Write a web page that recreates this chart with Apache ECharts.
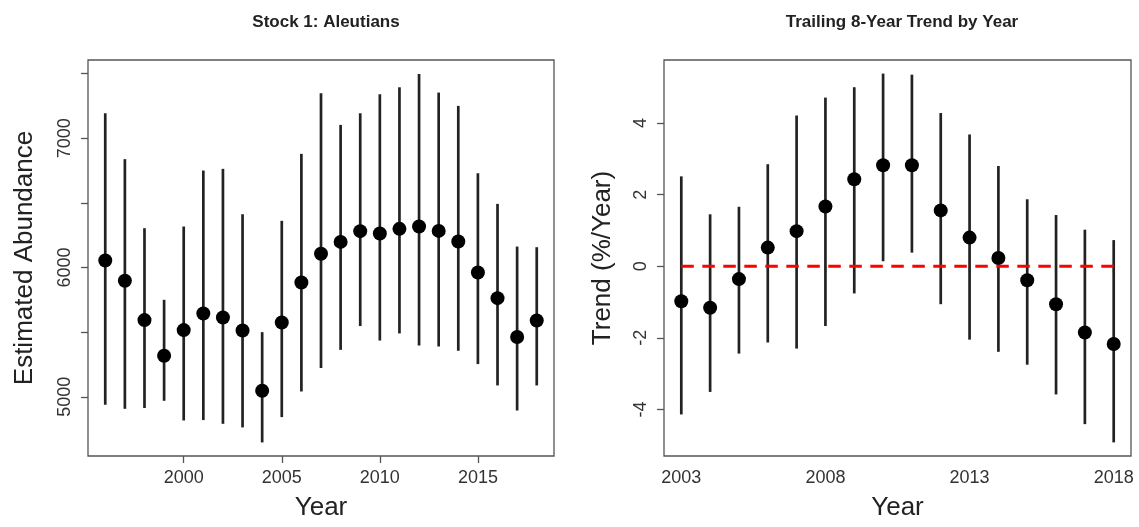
<!DOCTYPE html>
<html>
<head>
<meta charset="utf-8">
<script src="https://cdn.jsdelivr.net/npm/echarts@6/dist/echarts.min.js"></script>
<style>
html,body{margin:0;padding:0;background:#fff;}
#chart{width:1139px;height:527px;}
</style>
</head>
<body>
<div id="chart"></div>
<script>
// ---- Panel 1: Stock 1: Aleutians ----
const years1 = [1996,1997,1998,1999,2000,2001,2002,2003,2004,2005,2006,2007,2008,2009,2010,2011,2012,2013,2014,2015,2016,2017,2018];
const abundance = [6054,5897,5593,5317,5516,5644,5613,5513,5047,5575,5884,6106,6198,6281,6263,6299,6317,6283,6201,5961,5763,5462,5590];
const abundLow  = [4938,4907,4913,4969,4817,4820,4791,4763,4647,4843,5041,5222,5363,5547,5435,5490,5397,5389,5356,5253,5088,4894,5088];
const abundHigh = [7193,6838,6304,5750,6317,6750,6763,6412,5500,6361,6879,7348,7103,7193,7340,7394,7497,7353,7250,6729,6492,6162,6157];
const xTicks1 = [2000,2005,2010,2015];
const yTicks1 = [5000,5500,6000,6500,7000,7500];
const yLabels1 = [5000,6000,7000];

// ---- Panel 2: Trailing 8-Year Trend by Year ----
const years2 = [2003,2004,2005,2006,2007,2008,2009,2010,2011,2012,2013,2014,2015,2016,2017,2018];
const trend     = [-0.98,-1.16,-0.36,0.52,0.98,1.67,2.43,2.82,2.82,1.56,0.80,0.23,-0.39,-1.06,-1.85,-2.17];
const trendLow  = [-4.14,-3.51,-2.44,-2.13,-2.30,-1.67,-0.76,0.14,0.38,-1.06,-2.05,-2.39,-2.75,-3.58,-4.41,-4.92];
const trendHigh = [2.51,1.45,1.66,2.85,4.21,4.71,5.00,5.38,5.35,4.28,3.68,2.80,1.87,1.43,1.02,0.73];
const xTicks2 = [2003,2008,2013,2018];
const yTicks2 = [-4,-2,0,2,4];
const zeroLine = [[2003,0],[2018,0]];

const FONT = '"Liberation Sans", Arial, Helvetica, sans-serif';
const AXIS_GRAY = '#555';
const TXT = '#222';

function errRender(params, api){
  const x = api.value(0);
  const p1 = api.coord([x, api.value(1)]);
  const p2 = api.coord([x, api.value(2)]);
  return {type:'line', shape:{x1:p1[0],y1:p1[1],x2:p2[0],y2:p2[1]},
          style:{stroke:'#222', lineWidth:2.7}};
}

function xAxisCfg(idx, min, max, ticks){
  return {
    type:'value', gridIndex: idx, min: min, max: max,
    name:'Year', nameLocation:'middle', nameGap: 39,
    nameTextStyle:{fontSize:26, color:TXT, fontFamily:FONT},
    axisLine:{show:false},
    splitLine:{show:false},
    axisTick:{show:true, length:7, customValues: ticks, lineStyle:{color:AXIS_GRAY, width:1.3}},
    axisLabel:{show:true, customValues: ticks, fontSize:18, color:'#333', fontFamily:FONT, margin:13,
               formatter: v => String(v)}
  };
}
function yAxisCfg(idx, min, max, ticks, labels, name, gap){
  return {
    type:'value', gridIndex: idx, min: min, max: max,
    name: name, nameLocation:'middle', nameGap: gap,
    nameTextStyle:{fontSize:26, color:TXT, fontFamily:FONT},
    axisLine:{show:false},
    splitLine:{show:false},
    axisTick:{show:true, length:7, customValues: ticks, lineStyle:{color:AXIS_GRAY, width:1.3}},
    axisLabel:{show:true, customValues: labels, rotate:90, fontSize:18, color:'#333', fontFamily:FONT, margin:14,
               formatter: v => String(v)}
  };
}

const option = {
  backgroundColor:'#fff',
  animation:false,
  title:[
    {text:'Stock 1: Aleutians', left:321, top:9, textAlign:'center',
     textStyle:{fontSize:17, fontWeight:'bold', color:TXT, fontFamily:FONT}},
    {text:'Trailing 8-Year Trend by Year', left:897, top:9, textAlign:'center',
     textStyle:{fontSize:17, fontWeight:'bold', color:TXT, fontFamily:FONT}}
  ],
  grid:[
    {left:88, top:60, width:466, height:396, show:true, borderColor:AXIS_GRAY, borderWidth:1.3, backgroundColor:'transparent'},
    {left:664, top:60, width:467, height:396, show:true, borderColor:AXIS_GRAY, borderWidth:1.3, backgroundColor:'transparent'}
  ],
  xAxis:[
    xAxisCfg(0, 1995.12, 2018.88, xTicks1),
    xAxisCfg(1, 2002.4, 2018.6, xTicks2)
  ],
  yAxis:[
    yAxisCfg(0, 4542, 7605, yTicks1, yLabels1, 'Estimated Abundance', 50),
    yAxisCfg(1, -5.3, 5.76, yTicks2, yTicks2, 'Trend (%/Year)', 48)
  ],
  series:[
    {type:'custom', xAxisIndex:0, yAxisIndex:0, renderItem: errRender,
     encode:{x:0, y:[1,2]},
     data: years1.map((y,i)=>[y, abundLow[i], abundHigh[i]]), z:2},
    {type:'scatter', xAxisIndex:0, yAxisIndex:0, symbol:'circle', symbolSize:14,
     itemStyle:{color:'#000', opacity:1},
     data: years1.map((y,i)=>[y, abundance[i]]), z:3},
    {type:'custom', xAxisIndex:1, yAxisIndex:1, renderItem: errRender,
     encode:{x:0, y:[1,2]},
     data: years2.map((y,i)=>[y, trendLow[i], trendHigh[i]]), z:2},
    {type:'scatter', xAxisIndex:1, yAxisIndex:1, symbol:'circle', symbolSize:14,
     itemStyle:{color:'#000', opacity:1},
     data: years2.map((y,i)=>[y, trend[i]]), z:3},
    {type:'line', xAxisIndex:1, yAxisIndex:1, data: zeroLine, symbol:'none',
     lineStyle:{color:'#ff0000', width:2.8, type:[12.5,8.5]}, z:4, silent:true}
  ]
};

const chart = echarts.init(document.getElementById('chart'), null, {renderer:'canvas'});
chart.setOption(option);
</script>
</body>
</html>
